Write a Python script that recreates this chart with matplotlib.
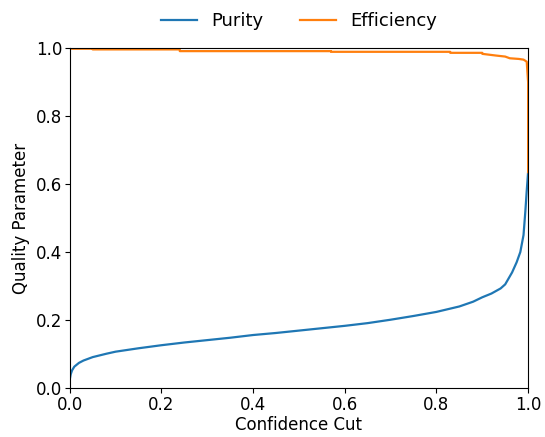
import numpy as np
import matplotlib
matplotlib.use('Agg')
import matplotlib.pyplot as plt

# confidence cut values and the quality parameters
purity_cut = [0.0, 0.002, 0.005, 0.01, 0.02, 0.03, 0.05, 0.08, 0.1, 0.15, 0.2, 0.25,
              0.3, 0.35, 0.4, 0.45, 0.5, 0.55, 0.6, 0.65, 0.7, 0.75, 0.8, 0.85,
              0.88, 0.9, 0.92, 0.94, 0.95, 0.965, 0.975, 0.983, 0.99, 0.994,
              0.997, 1.0]
purity = [0.025, 0.04, 0.052, 0.063, 0.074, 0.081, 0.091, 0.101, 0.107, 0.117,
          0.126, 0.134, 0.141, 0.148, 0.156, 0.162, 0.169, 0.176, 0.183, 0.191,
          0.201, 0.212, 0.224, 0.24, 0.254, 0.267, 0.278, 0.293, 0.305, 0.34,
          0.37, 0.40, 0.45, 0.52, 0.58, 0.635]

eff_cut = [0.0, 0.05, 0.05, 0.24, 0.24, 0.57, 0.57, 0.78, 0.83, 0.83, 0.9,
           0.9, 0.93, 0.95, 0.96, 0.98, 0.99, 0.997, 1.0, 1.0]
efficiency = [0.998, 0.998, 0.996, 0.996, 0.991, 0.991, 0.989, 0.989, 0.989,
              0.986, 0.986, 0.983, 0.978, 0.975, 0.97, 0.968, 0.966, 0.96,
              0.9, 0.635]

fig, ax = plt.subplots(figsize=(5.45, 4.37), dpi=100)
fig.subplots_adjust(left=0.128, right=0.969, bottom=0.112, top=0.890)

ax.plot(purity_cut, purity, color='#1f77b4', lw=1.6, label='Purity')
ax.plot(eff_cut, efficiency, color='#ff7f0e', lw=1.6, label='Efficiency')

ax.set_xlim(0, 1)
ax.set_ylim(0, 1)
ax.set_xlabel('Confidence Cut', fontsize=12, labelpad=2)
ax.set_ylabel('Quality Parameter', fontsize=12)
ax.tick_params(labelsize=12, pad=2)
ax.legend(loc='lower center', bbox_to_anchor=(0.5, 1.015), ncol=2,
          frameon=False, fontsize=13, columnspacing=2.0, borderaxespad=0.3)

plt.savefig('out.png', dpi=100)
plt.close()
